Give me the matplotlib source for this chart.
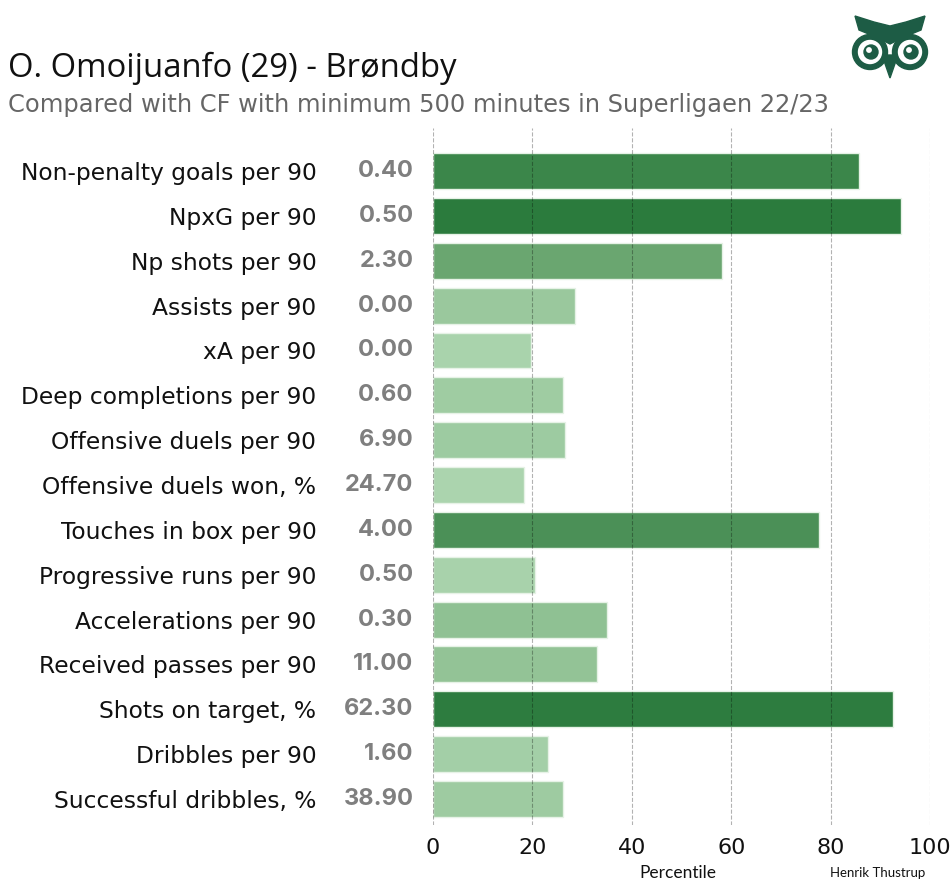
import numpy as np
import matplotlib
matplotlib.use("Agg")
import matplotlib.pyplot as plt
from matplotlib.colors import LinearSegmentedColormap
from matplotlib.patches import Polygon, Circle

# data
labels = ["Non-penalty goals per 90", "NpxG per 90", "Np shots per 90", "Assists per 90",
          "xA per 90", "Deep completions per 90", "Offensive duels per 90",
          "Offensive duels won, %", "Touches in box per 90", "Progressive runs per 90",
          "Accelerations per 90", "Received passes per 90", "Shots on target, %",
          "Dribbles per 90", "Successful dribbles, %"]
values = [0.40, 0.50, 2.30, 0.00, 0.00, 0.60, 6.90, 24.70, 4.00, 0.50, 0.30, 11.00, 62.30, 1.60, 38.90]
percentiles = [85.8, 94.2, 58.2, 28.6, 19.8, 26.1, 26.6, 18.4, 77.7, 20.5, 35.0, 32.9, 92.6, 23.2, 26.2]

title = "O. Omoijuanfo (29) - Brøndby"
subtitle = "Compared with CF with minimum 500 minutes in Superligaen 22/23"

cmap = LinearSegmentedColormap.from_list("pct", [
    (0.0, "#c2e3c3"), (0.18, "#acd5af"), (0.35, "#8fc193"), (0.58, "#6aa670"),
    (0.78, "#4a9057"), (0.94, "#2b7b3d"), (1.0, "#277638")])

W, H = 950, 888
fig = plt.figure(figsize=(9.5, 8.88), dpi=100)
fig.patch.set_facecolor("white")

ax = fig.add_axes([433 / W, 1 - 825 / H, (930 - 433) / W, (825 - 128) / H])
y = np.arange(len(labels))
cols = [cmap(p / 100) for p in percentiles]
ax.barh(y, percentiles, height=0.8, color=cols, edgecolor="#e6f2e6", linewidth=1, zorder=2)
ax.set_xlim(0, 100)
ax.set_ylim(14.58, -0.96)
ax.set_xticks([0, 20, 40, 60, 80, 100])
ax.set_yticks(y)
ax.set_yticklabels(labels, fontsize=16.8, family="DejaVu Sans", color="#111111")
ax.tick_params(axis="y", length=0, pad=84)
ax.tick_params(axis="x", length=0, pad=9, labelsize=16, labelcolor="#111111")
for t in ax.get_xticklabels():
    t.set_family("DejaVu Sans")
ax.grid(axis="x", linestyle="--", color="black", alpha=0.3, linewidth=0.8, zorder=3)
ax.set_axisbelow(False)
for s in ax.spines.values():
    s.set_visible(False)

for i, v in enumerate(values):
    ax.annotate(f"{v:.2f}", xy=(0, i), xytext=(-14, 0), textcoords="offset points",
                ha="right", va="center", fontsize=17, fontweight="bold",
                family="Inter", color="#7f7f7f")

fig.text(8 / W, 1 - 77 / H, title, fontsize=23.7, family="Open Sans", color="#111111")
fig.text(8 / W, 1 - 112 / H, subtitle, fontsize=17.4, family="DejaVu Sans", color="#666666")
fig.text(678 / W, 1 - 878 / H, "Percentile", fontsize=12.5, family="Lato", ha="center", color="#111111")
fig.text(925 / W, 1 - 877 / H, "Henrik Thustrup", fontsize=9.5, family="Lato", ha="right", color="#111111")

# owl logo
lax = fig.add_axes([840 / W, 1 - 90 / H, 110 / W, 90 / H])
lax.set_xlim(0, 110)
lax.set_ylim(90, 0)
lax.axis("off")
green = "#1d5c45"
for cx in (30, 70):
    lax.add_patch(Circle((cx, 52), 17.5, color=green))
brow = [(15, 16), (34, 22), (50, 26), (66, 22), (85, 16), (81, 30), (64, 37),
        (50, 44), (36, 37), (19, 30)]
lax.add_patch(Polygon(brow, closed=True, color=green))
lax.add_patch(Polygon([(42, 55), (58, 55), (50, 78)], closed=True, color=green))
for cx in (30, 70):
    lax.add_patch(Circle((cx, 52), 11.5, color="white"))
    lax.add_patch(Circle((cx + 1, 52), 7, color=green))
    lax.add_patch(Circle((cx - 1, 50), 2.2, color="white"))

fig.savefig("out.png", dpi=100, facecolor="white")
